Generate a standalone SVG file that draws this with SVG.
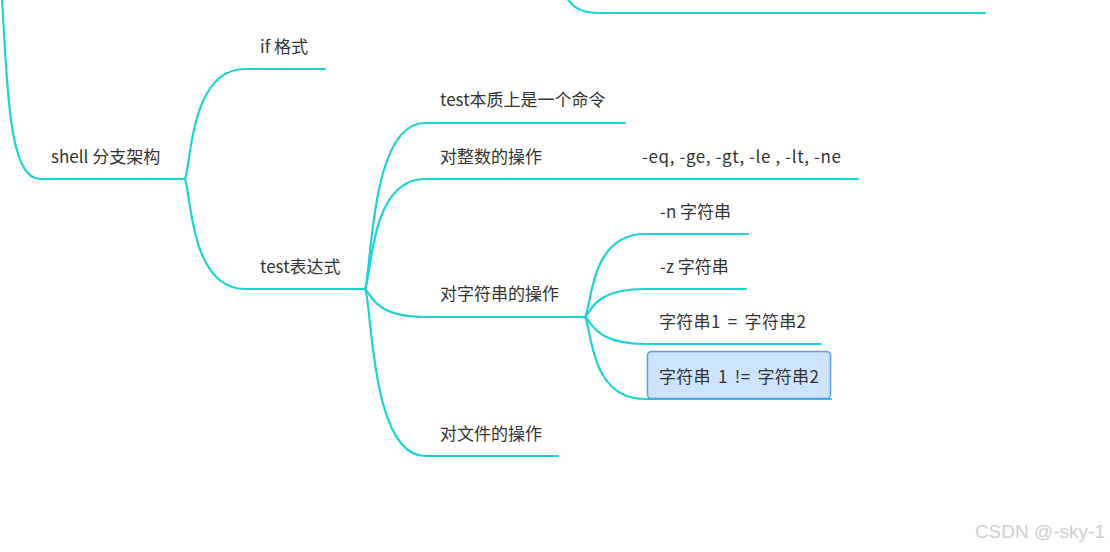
<svg xmlns="http://www.w3.org/2000/svg" width="1110" height="552" viewBox="0 0 1110 552">
<style>
.c{fill:none;stroke:#1fd3d3;stroke-width:2.2;stroke-linecap:round}
.t{font-family:"Microsoft YaHei","Noto Sans CJK SC",sans-serif;font-size:17px;fill:#333}
.w{word-spacing:3px;letter-spacing:0.3px}
.wm{font-family:"Liberation Sans",Arial,sans-serif;font-size:19px;fill:#d0d0d0}
</style>
<rect width="1110" height="552" fill="#fff"/>
<g id="connectors">
<path class="c" d="M2,-2 C8,100 10,179 40,179 L185,179"/>
<path class="c" d="M566,-4 C572,8 582,13 600,13 L985,13"/>
<path class="c" d="M185,179 C191,165 190,69 245,69 L325,69"/>
<path class="c" d="M185,179 C191,193 190,289 245,289 L365,289"/>
<path class="c" d="M365,289 C372,270 370,123 425,123 L625,123"/>
<path class="c" d="M365,289 C372,275 370,179 425,179 L560,179 L858,179"/>
<path class="c" d="M365,289 C372,295 375,317 425,317 L585,317"/>
<path class="c" d="M365,289 C372,300 370,456 425,456 L558,456"/>
<path class="c" d="M585,317 C592,305 590,234 645,234 L748,234"/>
<path class="c" d="M585,317 C592,310 595,289 645,289 L746,289"/>
<path class="c" d="M585,317 C592,322 595,344 645,344 L821,344"/>
<path class="c" d="M585,317 C592,330 590,399 645,399 L831,399"/>
</g>
<g id="n-root"><text class="t" x="51" y="163">shell 分支架构</text></g>
<g id="n-if"><text class="t" x="260" y="53">if 格式</text></g>
<g id="n-test"><text class="t" x="260" y="273">test表达式</text></g>
<g id="n-cmd"><text class="t" x="440" y="106">test本质上是一个命令</text></g>
<g id="n-int"><text class="t" x="440" y="163">对整数的操作</text></g>
<g id="n-intops"><text class="t" x="642" y="163" letter-spacing="0.6">-eq, -ge, -gt, -le , -lt, -ne</text></g>
<g id="n-str"><text class="t" x="440" y="300">对字符串的操作</text></g>
<g id="n-file"><text class="t" x="440" y="440">对文件的操作</text></g>
<g id="n-n"><text class="t" x="660" y="218">-n 字符串</text></g>
<g id="n-z"><text class="t" x="660" y="273">-z 字符串</text></g>
<g id="n-eq"><text class="t w" x="659" y="328">字符串1 = 字符串2</text></g>
<g id="n-ne">
<rect x="647.5" y="351.5" width="183" height="47" rx="4" fill="#cce4fd" stroke="#5b9bef" stroke-width="1.5"/>
<text class="t w" x="659" y="383">字符串 1 != 字符串2</text>
</g>
<text class="wm" x="1105" y="538" text-anchor="end">CSDN @-sky-1</text>
</svg>
